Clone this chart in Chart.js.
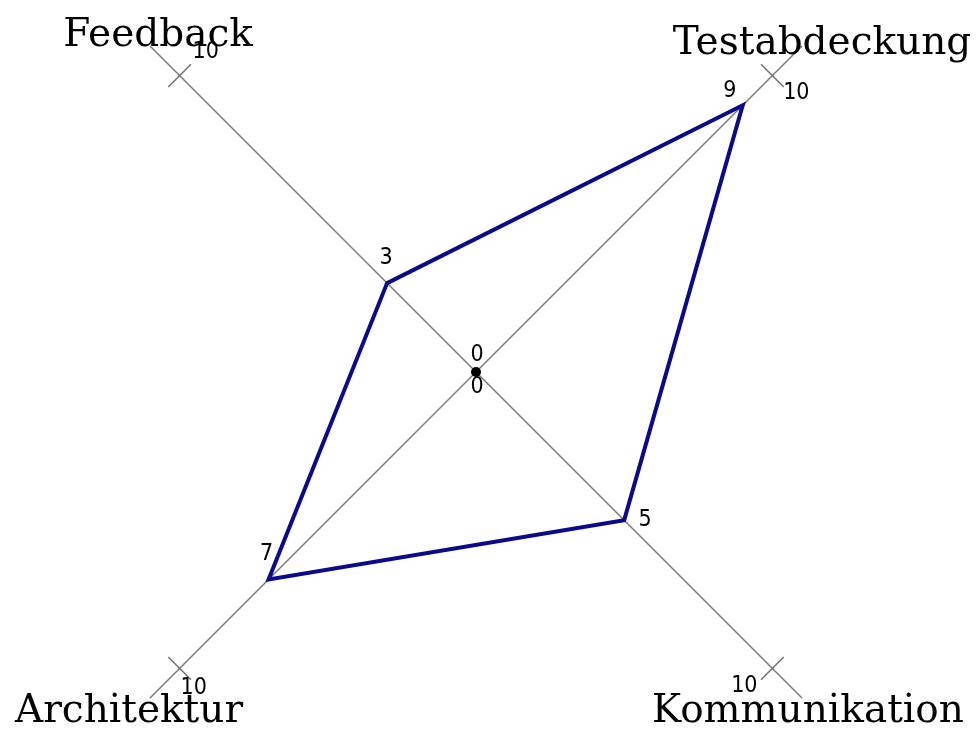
<!DOCTYPE html>
<html>
<head>
<meta charset="utf-8">
<script src="https://cdn.jsdelivr.net/npm/chart.js@4/dist/chart.umd.min.js"></script>
<style>
    html, body { margin: 0; padding: 0; background: #fff; }
    #wrap { width: 976px; height: 733px; }
</style>
</head>
<body>
<div id="wrap"><canvas id="radar"></canvas></div>
<script>
// Daten
const axisLabels = ['Feedback', 'Testabdeckung', 'Kommunikation', 'Architektur'];
const scores = [3, 9, 5, 7];
const axisMax = 10;
const axisTickLabels = ['0', '10'];

const smallFont = '23px "DejaVu Sans Condensed", "Liberation Sans Narrow", "Liberation Sans", sans-serif';
const bigFont = '39px "DejaVu Serif", "Liberation Serif", serif';

// Zeichnet Achsenmarken, Beschriftungen und Mittelpunkt
const decorPlugin = {
    id: 'decor',
    afterDatasetsDraw(chart) {
        const ctx = chart.ctx;
        const r = chart.scales.r;
        const cx = r.xCenter, cy = r.yCenter;

        // Querstriche bei 10
        ctx.save();
        ctx.strokeStyle = '#707070';
        ctx.lineWidth = 1.5;
        axisLabels.forEach((lbl, i) => {
            const p = r.getPointPositionForValue(i, axisMax);
            const ang = Math.atan2(p.y - cy, p.x - cx) + Math.PI / 2;
            const h = 16;
            ctx.beginPath();
            ctx.moveTo(p.x - Math.cos(ang) * h, p.y - Math.sin(ang) * h);
            ctx.lineTo(p.x + Math.cos(ang) * h, p.y + Math.sin(ang) * h);
            ctx.stroke();
        });
        ctx.restore();

        // kleine Zahlen
        ctx.save();
        ctx.fillStyle = '#000';
        ctx.font = smallFont;
        ctx.textAlign = 'center';
        ctx.textBaseline = 'middle';
        const tickOffsets = [[26, -24], [24, 17], [-28, 18], [14, 20]];
        axisLabels.forEach((lbl, i) => {
            const p = r.getPointPositionForValue(i, axisMax);
            ctx.fillText(axisTickLabels[1], p.x + tickOffsets[i][0], p.y + tickOffsets[i][1]);
        });
        const valueOffsets = [[-1, -25], [-13, -14], [21, 0], [-2, -25]];
        scores.forEach((v, i) => {
            const p = r.getPointPositionForValue(i, v);
            ctx.fillText(String(v), p.x + valueOffsets[i][0], p.y + valueOffsets[i][1]);
        });
        ctx.fillText(axisTickLabels[0], cx + 1, cy - 17);
        ctx.fillText(axisTickLabels[0], cx + 1, cy + 15);

        // Mittelpunkt
        ctx.beginPath();
        ctx.arc(cx, cy, 5, 0, Math.PI * 2);
        ctx.fill();

        // Achsentitel
        ctx.font = bigFont;
        ctx.textBaseline = 'alphabetic';
        const titleOffsets = [[8, 0], [20, 8], [6, 24], [-21, 24]];
        axisLabels.forEach((lbl, i) => {
            const p = r.getPointPositionForValue(i, r.max);
            ctx.fillText(lbl, p.x + titleOffsets[i][0], p.y + titleOffsets[i][1]);
        });
        ctx.restore();
    }
};

const ctx = document.getElementById('radar').getContext('2d');
new Chart(ctx, {
    type: 'radar',
    data: {
        labels: axisLabels,
        datasets: [{
            data: scores,
            borderColor: '#0a0a8c',
            borderWidth: 4,
            fill: false,
            pointRadius: 0,
            tension: 0
        }]
    },
    options: {
        responsive: true,
        maintainAspectRatio: false,
        animation: false,
        layout: { padding: { right: 24, top: 12 } },
        plugins: {
            legend: { display: false },
            tooltip: { enabled: false }
        },
        scales: {
            r: {
                min: 0,
                max: 11,
                startAngle: -45,
                grid: { display: false },
                ticks: { display: false },
                pointLabels: { display: false },
                angleLines: { display: true, color: '#7a7a7a', lineWidth: 1.5 },
                afterFit: (scale) => { scale.drawingArea = 461; }
            }
        }
    },
    plugins: [decorPlugin]
});
</script>
</body>
</html>
